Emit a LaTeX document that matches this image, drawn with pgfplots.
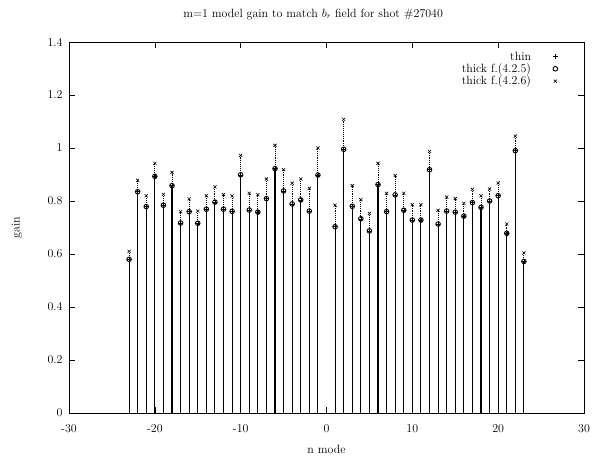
\documentclass[border=0pt]{standalone}
\usepackage{pgfplots}
\usepackage{pgfplotstable}
\pgfplotsset{compat=1.18}
\pgfplotstableread{
n thin a b
-23 0.580 0.580 0.610
-22 0.835 0.835 0.878
-21 0.779 0.779 0.820
-20 0.893 0.893 0.942
-19 0.784 0.784 0.825
-18 0.858 0.858 0.908
-17 0.717 0.717 0.760
-16 0.760 0.760 0.808
-15 0.716 0.716 0.762
-14 0.769 0.769 0.820
-13 0.796 0.796 0.853
-12 0.769 0.769 0.824
-11 0.761 0.761 0.819
-10 0.899 0.899 0.972
-9 0.766 0.766 0.829
-8 0.758 0.758 0.824
-7 0.809 0.809 0.883
-6 0.922 0.922 1.010
-5 0.838 0.838 0.918
-4 0.789 0.789 0.867
-3 0.804 0.804 0.883
-2 0.762 0.762 0.848
-1 0.898 0.898 1.000
1 0.703 0.703 0.784
2 0.995 0.995 1.108
3 0.780 0.780 0.858
4 0.733 0.733 0.805
5 0.687 0.687 0.753
6 0.862 0.862 0.942
7 0.760 0.760 0.829
8 0.823 0.823 0.896
9 0.765 0.765 0.829
10 0.728 0.728 0.786
11 0.728 0.728 0.786
12 0.918 0.918 0.987
13 0.713 0.713 0.765
14 0.762 0.762 0.815
15 0.758 0.758 0.809
16 0.743 0.743 0.791
17 0.794 0.794 0.844
18 0.776 0.776 0.820
19 0.800 0.800 0.845
20 0.820 0.820 0.868
21 0.678 0.678 0.713
22 0.990 0.990 1.045
23 0.572 0.572 0.604
}\gaindata
\begin{document}
\begin{tikzpicture}
\begin{axis}[
  name=ax,
  scale only axis,
  width=515bp, height=371bp,
  clip=false,
  xmin=-30, xmax=30, ymin=0, ymax=1.4,
  xtick={-30,-20,...,30},
  ytick={0,0.2,...,1.4},
  minor tick num=0,
  tick align=inside,
  major tick length=5.7bp,
  tick style={black, line width=0.6pt},
  axis line style={black, line width=0.6pt},
  /pgf/number format/assume math mode=true,
  /pgf/number format/fixed,
  ticklabel style={font=\fontsize{12}{14}\selectfont},
  xticklabel style={yshift=-8bp},
  yticklabel style={xshift=-3bp},
  legend style={draw=none, fill=none, font=\fontsize{12}{13}\selectfont,
    at={(0.955,0.985)}, anchor=north east, row sep=-2pt, column sep=20bp},
  legend cell align=right,
  legend plot pos=right,
]
\addplot[ycomb, black, densely dotted, line width=0.9pt, forget plot] table[x=n, y=b] {\gaindata};
\addplot[ycomb, black, line width=1.1pt, forget plot] table[x=n, y=thin] {\gaindata};
\addplot[only marks, mark=+, mark size=2.2bp, black, mark options={line width=0.5pt}] table[x=n, y=thin] {\gaindata};
\addlegendentry{thin}
\addplot[only marks, mark=o, mark size=2.3bp, black, mark options={line width=0.9pt, fill=gray}] table[x=n, y=a] {\gaindata};
\addlegendentry{thick f.(4.2.5)}
\addplot[only marks, mark=x, mark size=2.2bp, black, mark options={line width=0.6pt}] table[x=n, y=b] {\gaindata};
\addlegendentry{thick f.(4.2.6)}
\node[font=\fontsize{12}{14}\selectfont] at (rel axis cs:0.474,1.075) {m=1 model gain to match $b_r$ field for shot \#27040};
\node[font=\fontsize{12}{14}\selectfont] at (rel axis cs:0.5,-0.097) {n mode};
\node[font=\fontsize{12}{14}\selectfont, rotate=90] at (rel axis cs:-0.101,0.5) {gain};
\end{axis}
\path (ax.south west) ++(-69bp,-42bp);
\path (ax.north east) ++(11bp,42bp);
\end{tikzpicture}
\end{document}
